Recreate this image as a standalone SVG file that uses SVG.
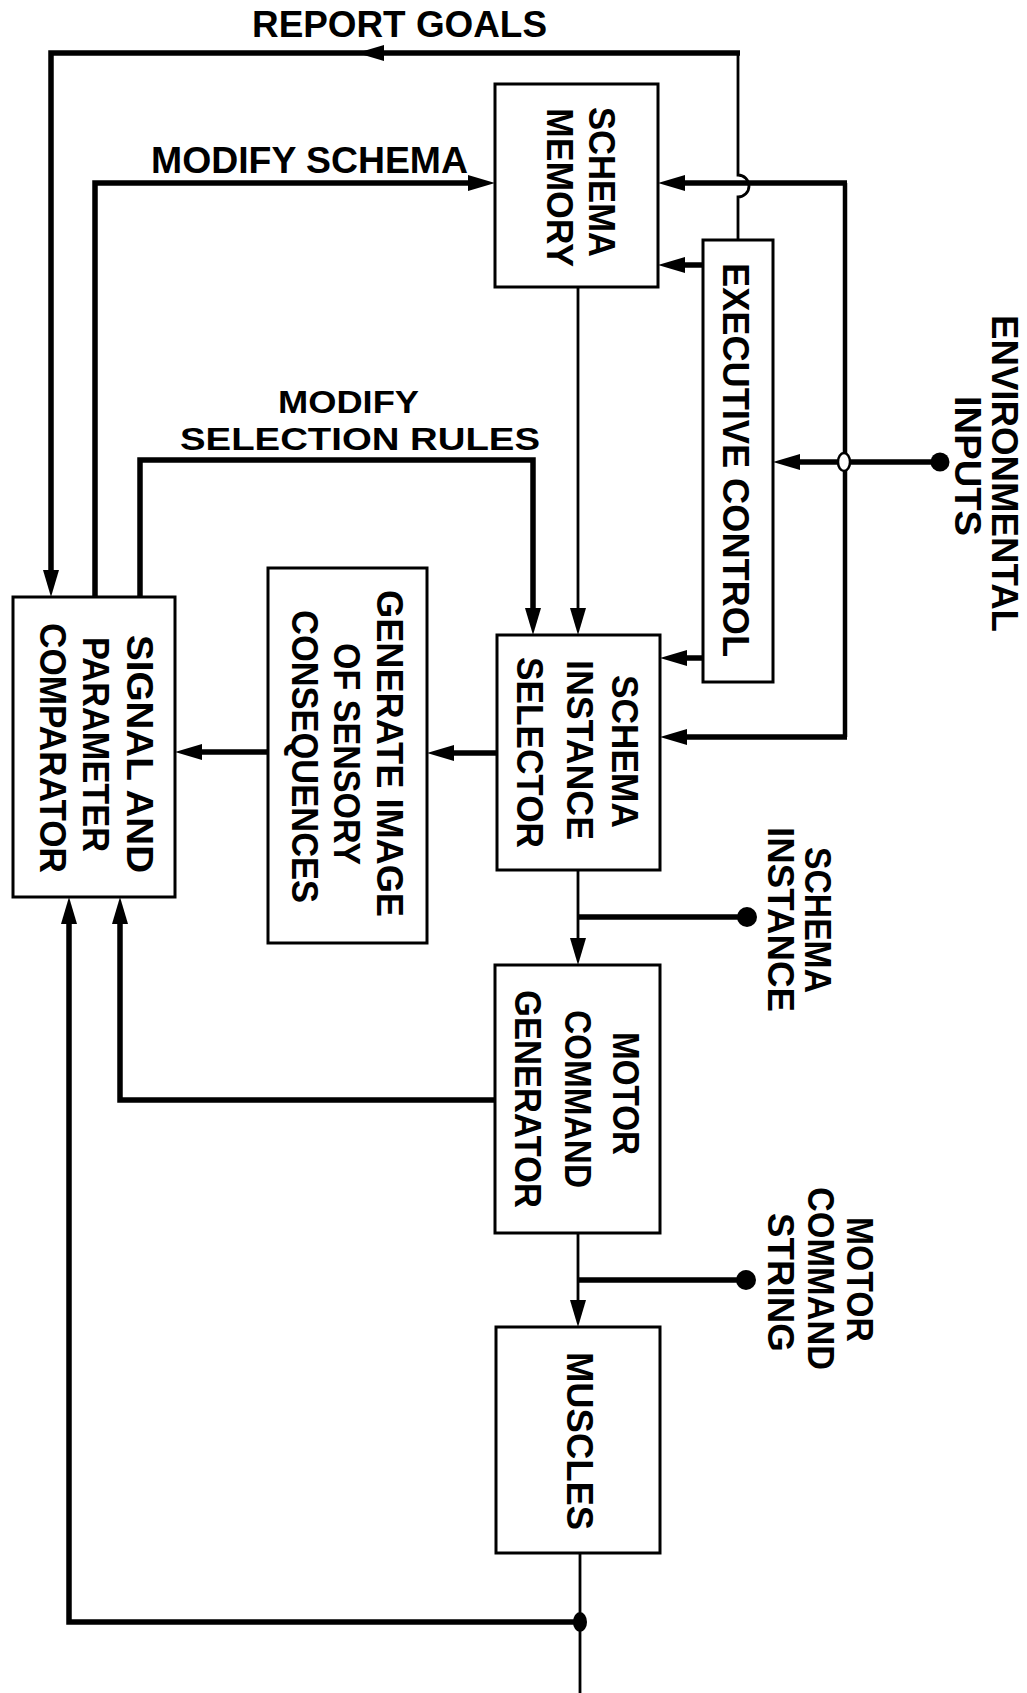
<svg xmlns="http://www.w3.org/2000/svg" width="1027" height="1693" viewBox="0 0 1027 1693">
<style>
  .box{fill:#fff;stroke:#000;stroke-width:3}
  .rl{font-family:"Liberation Sans",Arial,sans-serif;font-weight:bold;font-size:36px;fill:#000;text-anchor:middle}
  .hl{font-family:"Liberation Sans",Arial,sans-serif;font-weight:bold;font-size:36px;fill:#000}
  .hs{font-family:"Liberation Sans",Arial,sans-serif;font-weight:bold;font-size:32px;fill:#000}
  .thick{fill:none;stroke:#000;stroke-width:5.5;stroke-linejoin:miter}
  .mid{fill:none;stroke:#000;stroke-width:4.5}
  .thin{fill:none;stroke:#000;stroke-width:2.8}
  .dot{fill:#000}
</style>
<defs>
  <marker id="ah" markerUnits="userSpaceOnUse" markerWidth="30" markerHeight="20" refX="0" refY="9" orient="auto" overflow="visible">
    <path d="M0,1 L27,9 L0,17 Z" fill="#000"/>
  </marker>
</defs>
<rect width="1027" height="1693" fill="#fff"/>

<g id="connectors">
  <!-- report goals -->
  <path class="thin" d="M738,240 V197 A11,11 0 0 0 738,175 V53"/>
  <path class="thick" d="M740,53 H51 V570" marker-end="url(#ah)"/>
  <polygon points="357,53 384,45 384,61" fill="#000"/>
  <!-- modify schema -->
  <path class="thick" d="M95,597 V183 H468" marker-end="url(#ah)"/>
  <!-- modify selection rules -->
  <path class="thick" d="M140,597 V460 H533 V608" marker-end="url(#ah)"/>
  <!-- schema memory to selector -->
  <path class="thin" d="M578,287 V608" marker-end="url(#ah)"/>
  <!-- environmental bus -->
  <path class="mid" d="M845,183 V737"/>
  <path class="thick" d="M847,183 H685" marker-end="url(#ah)"/>
  <path class="thick" d="M847,737 H687" marker-end="url(#ah)"/>
  <path class="thick" d="M940,462 H800" marker-end="url(#ah)"/>
  <circle cx="940" cy="462" r="9.5" class="dot"/>
  <ellipse cx="844" cy="462" rx="6" ry="9" fill="#fff" stroke="#000" stroke-width="2.5"/>
  <!-- executive control outputs -->
  <path class="thick" d="M703,265 H685" marker-end="url(#ah)"/>
  <path class="thick" d="M703,658 H687" marker-end="url(#ah)"/>
  <!-- selector to generate image -->
  <path class="thick" d="M497,753 H454" marker-end="url(#ah)"/>
  <!-- generate image to comparator -->
  <path class="thick" d="M268,752 H202" marker-end="url(#ah)"/>
  <!-- selector to motor command generator -->
  <path class="thin" d="M578,870 V938" marker-end="url(#ah)"/>
  <path class="thick" d="M578,917 H747"/>
  <circle cx="747" cy="917" r="10" class="dot"/>
  <!-- MCG to comparator -->
  <path class="thick" d="M495,1100 H120 V924" marker-end="url(#ah)"/>
  <!-- MCG to muscles -->
  <path class="thin" d="M578,1233 V1300" marker-end="url(#ah)"/>
  <path class="thick" d="M578,1280 H746"/>
  <circle cx="746" cy="1280" r="10" class="dot"/>
  <!-- muscles output / feedback -->
  <path class="thin" d="M580,1553 V1693"/>
  <path class="thick" d="M580,1622 H69 V924" marker-end="url(#ah)"/>
  <ellipse cx="580" cy="1622" rx="7" ry="10" class="dot"/>
</g>

<g id="labels">
  <text class="hl" x="252" y="37" textLength="295" lengthAdjust="spacingAndGlyphs">REPORT GOALS</text>
  <text class="hl" x="151" y="173" textLength="317" lengthAdjust="spacingAndGlyphs">MODIFY SCHEMA</text>
  <text class="hs" x="278" y="413" textLength="141" lengthAdjust="spacingAndGlyphs">MODIFY</text>
  <text class="hs" x="180" y="450" textLength="360" lengthAdjust="spacingAndGlyphs">SELECTION RULES</text>
</g>

<g id="schema-memory">
  <rect class="box" x="495" y="84" width="163" height="203"/>
  <text class="rl" transform="translate(589,182) rotate(90)" textLength="150" lengthAdjust="spacingAndGlyphs">SCHEMA</text>
  <text class="rl" transform="translate(547,187.5) rotate(90)" textLength="159" lengthAdjust="spacingAndGlyphs">MEMORY</text>
</g>

<g id="executive-control">
  <rect class="box" x="703" y="240" width="70" height="442"/>
  <text class="rl" transform="translate(723,460) rotate(90)" textLength="394" lengthAdjust="spacingAndGlyphs">EXECUTIVE CONTROL</text>
</g>

<g id="environmental-inputs">
  <text class="rl" transform="translate(992,473.5) rotate(90)" textLength="317" lengthAdjust="spacingAndGlyphs">ENVIRONMENTAL</text>
  <text class="rl" transform="translate(955,466) rotate(90)" textLength="140" lengthAdjust="spacingAndGlyphs">INPUTS</text>
</g>

<g id="comparator">
  <rect class="box" x="13" y="597" width="162" height="300"/>
  <text class="rl" transform="translate(127,754) rotate(90)" textLength="238" lengthAdjust="spacingAndGlyphs">SIGNAL AND</text>
  <text class="rl" transform="translate(83,744.5) rotate(90)" textLength="215" lengthAdjust="spacingAndGlyphs">PARAMETER</text>
  <text class="rl" transform="translate(40,748) rotate(90)" textLength="250" lengthAdjust="spacingAndGlyphs">COMPARATOR</text>
</g>

<g id="generate-image">
  <rect class="box" x="268" y="568" width="159" height="375"/>
  <text class="rl" transform="translate(377,753.5) rotate(90)" textLength="327" lengthAdjust="spacingAndGlyphs">GENERATE IMAGE</text>
  <text class="rl" transform="translate(334,754) rotate(90)" textLength="222" lengthAdjust="spacingAndGlyphs">OF SENSORY</text>
  <text class="rl" transform="translate(292,756.5) rotate(90)" textLength="293" lengthAdjust="spacingAndGlyphs">CONSEQUENCES</text>
</g>

<g id="schema-instance-selector">
  <rect class="box" x="497" y="635" width="163" height="235"/>
  <text class="rl" transform="translate(612,751.5) rotate(90)" textLength="153" lengthAdjust="spacingAndGlyphs">SCHEMA</text>
  <text class="rl" transform="translate(567,750) rotate(90)" textLength="180" lengthAdjust="spacingAndGlyphs">INSTANCE</text>
  <text class="rl" transform="translate(517,752.5) rotate(90)" textLength="191" lengthAdjust="spacingAndGlyphs">SELECTOR</text>
</g>

<g id="schema-instance-output">
  <text class="rl" transform="translate(805,920) rotate(90)" textLength="146" lengthAdjust="spacingAndGlyphs">SCHEMA</text>
  <text class="rl" transform="translate(768,919.5) rotate(90)" textLength="185" lengthAdjust="spacingAndGlyphs">INSTANCE</text>
</g>

<g id="motor-command-generator">
  <rect class="box" x="495" y="965" width="165" height="268"/>
  <text class="rl" transform="translate(613,1093.5) rotate(90)" textLength="123" lengthAdjust="spacingAndGlyphs">MOTOR</text>
  <text class="rl" transform="translate(565,1099) rotate(90)" textLength="178" lengthAdjust="spacingAndGlyphs">COMMAND</text>
  <text class="rl" transform="translate(515,1099) rotate(90)" textLength="218" lengthAdjust="spacingAndGlyphs">GENERATOR</text>
</g>

<g id="motor-command-string-output">
  <text class="rl" transform="translate(847,1279.5) rotate(90)" textLength="125" lengthAdjust="spacingAndGlyphs">MOTOR</text>
  <text class="rl" transform="translate(808,1278.5) rotate(90)" textLength="183" lengthAdjust="spacingAndGlyphs">COMMAND</text>
  <text class="rl" transform="translate(768,1282.5) rotate(90)" textLength="139" lengthAdjust="spacingAndGlyphs">STRING</text>
</g>

<g id="muscles">
  <rect class="box" x="496" y="1327" width="164" height="226"/>
  <text class="rl" transform="translate(567,1441) rotate(90)" textLength="178" lengthAdjust="spacingAndGlyphs">MUSCLES</text>
</g>
</svg>
